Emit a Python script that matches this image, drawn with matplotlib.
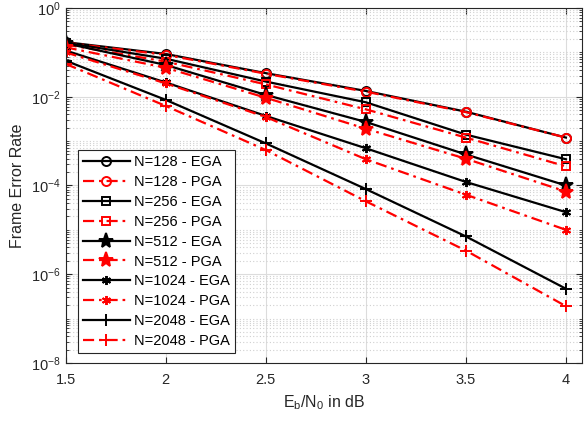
import matplotlib
matplotlib.use("Agg")
import matplotlib.pyplot as plt
from matplotlib.ticker import LogLocator, FixedLocator

plt.rcParams['font.family'] = ['Liberation Sans', 'DejaVu Sans']

snr = [1.5, 2.0, 2.5, 3.0, 3.5, 4.0]

# frame error rates
fer_128_ega = [0.17, 0.092, 0.034, 0.0135, 4.6e-3, 1.2e-3]
fer_128_pga = [0.165, 0.088, 0.033, 0.0130, 4.5e-3, 1.2e-3]
fer_256_ega = [0.165, 0.072, 0.022, 7.5e-3, 1.4e-3, 3.9e-4]
fer_256_pga = [0.15, 0.062, 0.019, 5.2e-3, 1.2e-3, 2.7e-4]
fer_512_ega = [0.16, 0.052, 0.011, 2.7e-3, 5.0e-4, 1.0e-4]
fer_512_pga = [0.13, 0.045, 0.0095, 1.9e-3, 4.0e-4, 7.3e-5]
fer_1024_ega = [0.11, 0.021, 3.7e-3, 6.9e-4, 1.2e-4, 2.5e-5]
fer_1024_pga = [0.10, 0.020, 3.5e-3, 3.9e-4, 6.2e-5, 1.0e-5]
fer_2048_ega = [0.065, 8.5e-3, 8.9e-4, 8.3e-5, 7.1e-6, 4.7e-7]
fer_2048_pga = [0.055, 6.2e-3, 6.3e-4, 4.4e-5, 3.4e-6, 1.9e-7]

sizes = [128, 256, 512, 1024, 2048]
ega = [fer_128_ega, fer_256_ega, fer_512_ega, fer_1024_ega, fer_2048_ega]
pga = [fer_128_pga, fer_256_pga, fer_512_pga, fer_1024_pga, fer_2048_pga]
markers = ['o', 's', '*', (6, 2, 0), '+']
msizes = [6.5, 5.5, 11, 6.5, 8]
filled = [False, False, True, True, True]

fig = plt.figure(figsize=(5.86, 4.21), dpi=100)
ax = fig.add_axes([0.112, 0.138, 0.881, 0.843])

dashdot = (0, (5, 2.2, 1.2, 2.2))
for n, e, p, m, ms, f in zip(sizes, ega, pga, markers, msizes, filled):
    ax.plot(snr, e, color='black', linestyle='-', linewidth=1.6,
            marker=m, markersize=ms, markeredgewidth=1.4,
            markerfacecolor='black' if f else 'none',
            label="N=%d - EGA" % n)
    ax.plot(snr, p, color='red', linestyle=dashdot, linewidth=1.6,
            marker=m, markersize=ms, markeredgewidth=1.4,
            markerfacecolor='red' if f else 'none',
            label="N=%d - PGA" % n)

ax.set_yscale('log')
ax.set_xlim(1.5, 4.08)
ax.set_ylim(1e-8, 1)
ax.set_xticks([1.5, 2, 2.5, 3, 3.5, 4])
ax.set_xticklabels(['1.5', '2', '2.5', '3', '3.5', '4'])
ax.yaxis.set_major_locator(FixedLocator([1e-8, 1e-6, 1e-4, 1e-2, 1]))
ax.yaxis.set_minor_locator(LogLocator(base=10, subs=range(1, 10), numticks=20))
ax.yaxis.set_minor_formatter(plt.NullFormatter())

ax.grid(True, which='major', color='#dcdcdc', linestyle='-', linewidth=0.8)
ax.grid(True, which='minor', axis='y', color='#d0d0d0', linestyle=(0, (1, 2)), linewidth=0.8)
ax.set_axisbelow(True)
ax.tick_params(which='both', direction='in', top=True, right=True,
               labelsize=10.5, colors='#262626')
ax.tick_params(which='major', length=4)
ax.tick_params(which='minor', length=2)
ax.tick_params(axis='x', pad=7)
for s in ax.spines.values():
    s.set_color('#262626')
    s.set_linewidth(0.8)

ax.set_xlabel(r'E$_\mathregular{b}$/N$_\mathregular{0}$ in dB', fontsize=11.5,
              color='#262626', labelpad=5)
ax.set_ylabel('Frame Error Rate', fontsize=11.5, color='#262626')

leg = ax.legend(loc='lower left', bbox_to_anchor=(0.024, 0.028), fontsize=10.5,
                fancybox=False, framealpha=1, edgecolor='#262626',
                handlelength=3.2, labelspacing=0.4, borderpad=0.35,
                handletextpad=0.3, borderaxespad=0)
leg.get_frame().set_linewidth(0.8)

fig.savefig('out.png', dpi=100)
